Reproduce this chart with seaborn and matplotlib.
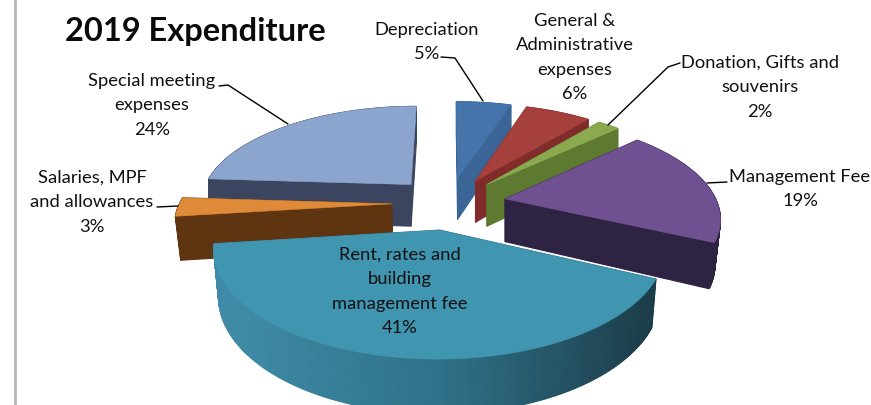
import numpy as np
import matplotlib
matplotlib.use("Agg")
import matplotlib.pyplot as plt
import seaborn as sns

categories = ["Depreciation", "General &\nAdministrative\nexpenses", "Donation, Gifts and\nsouvenirs",
              "Management Fee", "Rent, rates and\nbuilding\nmanagement fee",
              "Salaries, MPF\nand allowances", "Special meeting\nexpenses"]
values = [5, 6, 2, 19, 41, 3, 24]

top_colors = ["#4474AA", "#A5403C", "#8BAA50", "#6F5090", "#4095B0", "#DE8A38", "#8CA5CE"]
side_colors = ["#3A6596", "#7F2C2A", "#5D7A30", "#2F2344", "#2F7188", "#5E3411", "#3B4560"]

sns.set_theme(style="white")
plt.rcParams["font.family"] = ["Lato", "DejaVu Sans"]

# perspective settings for the fake 3d pie, in pixels
cx, cy = 449, 203
rx, ky = 212, 97
persp = 0.168
depth = 43
explode = 0.27
draw_order = [0, 6, 1, 2, 3, 5, 4]


def project(u, v):
    w = 1 + persp * v
    return cx + rx * u / w, cy - ky * v / w, w


fig = plt.figure(figsize=(8.71, 4.05), dpi=100)
ax = fig.add_axes([0, 0, 1, 1])
ax.set_xlim(0, 871)
ax.set_ylim(405, 0)
ax.axis("off")

shares = np.array(values) / sum(values) * 360
ends = 90 - np.cumsum(shares)
starts = ends + shares
rent_wall = sns.blend_palette(["#3F8BA7", "#2F7188", "#1C3D4A"], 101)

for i in draw_order:
    mid = np.radians((starts[i] + ends[i]) / 2)
    theta = np.radians(np.linspace(starts[i], ends[i], max(int(shares[i]) * 2, 6)))
    u = np.r_[0, np.cos(theta)] + explode * np.cos(mid)
    v = np.r_[0, np.sin(theta)] + explode * np.sin(mid)
    x, y, w = project(u, v)
    # bottom outline pulls in a little on the near side only
    xb = cx + (x - cx) * np.where(v < 0, 0.98, 1)
    yb = y + depth / w

    # walls, far ones first
    n = len(x)
    quads = sorted(range(n), key=lambda j: y[j] + y[(j + 1) % n])
    for j in quads:
        k = (j + 1) % n
        color = side_colors[i]
        if i == 4 and j != n - 1 and j != 0:
            # rent slice wall gets darker to the right
            t = np.clip((x[j] - 230) / 420, 0, 1)
            color = rent_wall[int(t * 100)]
        ax.fill([x[j], x[k], xb[k], xb[j]], [y[j], y[k], yb[k], yb[j]],
                color=color, lw=0.8, zorder=2)
    ax.fill(x, y, color=top_colors[i], lw=0.4, zorder=2)

# labels: name, then percent
label_pos = [(427, 30), (575, 21), (760, 63), (800, 177), (400, 255), (92, 178), (152, 81)]
for name, val, (lx, ly) in zip(categories, values, label_pos):
    lines = name.split("\n") + [f"{val}%"]
    for n, line in enumerate(lines):
        ax.text(lx, ly + n * 24.4, line, ha="center", va="center", fontsize=13.2,
                color="#111111", zorder=5)

leaders = [([441, 455, 483], [57, 58, 101]),
           ([680, 668, 608], [63, 67, 125]),
           ([727, 707], [182, 183]),
           ([157, 178], [207, 206]),
           ([219, 228, 288], [86, 85, 124])]
for lx, ly in leaders:
    ax.plot(lx, ly, color="black", lw=1, zorder=4)

ax.text(65, 31, "2019 Expenditure", fontsize=23.5, fontweight="bold", ha="left", va="center", color="#0a0a0a")
ax.plot([15, 15], [0, 405], color="#b5b5b5", lw=2, zorder=1)

fig.savefig("out.png", dpi=100)
